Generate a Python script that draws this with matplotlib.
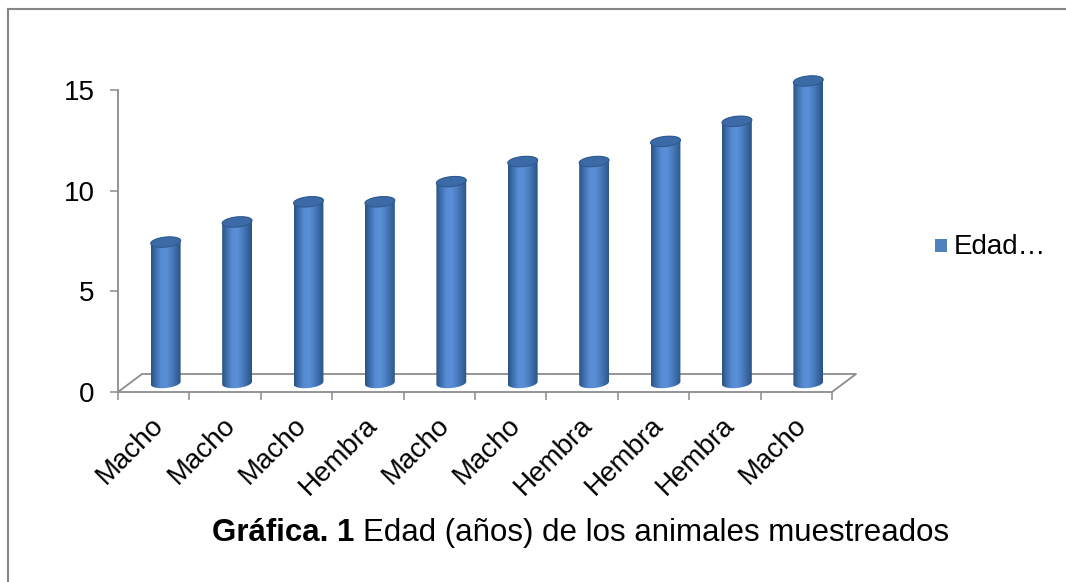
import numpy as np
import matplotlib
matplotlib.use("Agg")
import matplotlib.pyplot as plt
from matplotlib.colors import LinearSegmentedColormap
from matplotlib.patches import Polygon, Rectangle
from matplotlib.lines import Line2D

plt.rcParams['font.family'] = ['Liberation Sans', 'DejaVu Sans']

# data
categories = ['Macho', 'Macho', 'Macho', 'Hembra', 'Macho', 'Macho',
              'Hembra', 'Hembra', 'Hembra', 'Macho']
edad = [7, 8, 9, 9, 10, 11, 11, 12, 13, 15]
yticks = [0, 5, 10, 15]
series_name = 'Edad…'

W, H = 1066, 582
fig = plt.figure(figsize=(W / 100, H / 100), dpi=100)

# plot area in pixels (front plane); y axis drawn 0..15, some headroom above
x0, x1 = 118, 832
y15, ybot = 90, 392
ymax = 16.5
sy = (ybot - y15) / 15   # px per unit
ytop = ybot - ymax * sy
ax = fig.add_axes([x0 / W, (H - ybot) / H, (x1 - x0) / W, (ybot - ytop) / H])
n = len(edad)
ax.patch.set_visible(False)

sx = (x1 - x0) / n      # px per category

# 3d depth shift
dx = 24 / sx
dy = 18 / sy

gray = '#8c8c8c'
for s in ['top', 'right']:
    ax.spines[s].set_visible(False)
for s in ['left', 'bottom']:
    ax.spines[s].set_color(gray)
    ax.spines[s].set_linewidth(1.3)
ax.spines['left'].set_bounds(0, 15)

# floor outline
ax.plot([0, dx, n + dx, n], [0, dy, dy, 0], color=gray, lw=1.3,
        clip_on=False, zorder=1)

ax.set_yticks(yticks)
ax.tick_params(axis='y', direction='out', length=6, width=1.1, color=gray,
               pad=11, labelsize=20)
ax.set_xticks(np.arange(n + 1))
ax.set_xticklabels([])
ax.tick_params(axis='x', direction='out', length=6, width=1.1, color=gray)

for i, lab in enumerate(categories):
    ax.annotate(lab, (i + 0.5, 0), xytext=(6, -29), textcoords='offset pixels',
                rotation=45, ha='right', va='center', rotation_mode='anchor',
                fontsize=20, annotation_clip=False)

# cylinder look
cyl = LinearSegmentedColormap.from_list(
    'cyl', ['#2a5283', '#3f71b0', '#578cd3', '#5b90d8', '#4c80c3',
            '#3b69a5', '#2b5282'])
grad = np.linspace(0, 1, 200).reshape(1, -1)

rw = 15.0      # half width px
rh = 5.0       # half height px
tilt = np.deg2rad(6)


def ell(cx, cy, t):
    px = rw * np.cos(t) * np.cos(tilt) - rh * np.sin(t) * np.sin(tilt)
    py = rw * np.cos(t) * np.sin(tilt) + rh * np.sin(t) * np.cos(tilt)
    return cx + px / sx, cy + py / sy


for i, v in enumerate(edad):
    cx = i + 0.5 + dx / 2
    base = dy / 2
    top = v + dy / 2
    tb = np.linspace(np.pi, 2 * np.pi, 40)
    tt = np.linspace(0, np.pi, 40)
    bx, by = ell(cx, base, tb)
    tx, ty = ell(cx, top, tt)
    body = Polygon(np.column_stack([np.r_[bx, tx], np.r_[by, ty]]),
                   closed=True, fc='none', ec='none', transform=ax.transData)
    ax.add_patch(body)
    im = ax.imshow(grad, cmap=cyl, aspect='auto', zorder=3,
                   extent=[cx - rw / sx, cx + rw / sx, base - 2 * rh / sy, top + 2 * rh / sy])
    im.set_clip_path(body)
    ta = np.linspace(0, 2 * np.pi, 80)
    ex, ey = ell(cx, top, ta)
    ax.add_patch(Polygon(np.column_stack([ex, ey]), closed=True,
                         fc='#3c6aa6', ec='#2f5a90', lw=0.8, zorder=4,
                         clip_on=False))

ax.set_xlim(0, n)
ax.set_ylim(0, ymax)

# legend
fig.add_artist(Rectangle((935 / W, (H - 252) / H), 12 / W, 13 / H,
                         fc='#4f81bd', ec='none', transform=fig.transFigure))
fig.text(954 / W, (H - 254) / H, series_name, fontsize=20, va='baseline')

# caption: bold part + regular part
fig.canvas.draw()
r = fig.canvas.get_renderer()
t1 = fig.text(0, (H - 541) / H, 'Gráfica. 1 ', fontsize=22.5, fontweight='bold',
              va='baseline')
t2 = fig.text(0, (H - 541) / H, 'Edad (años) de los animales muestreados',
              fontsize=22.5, va='baseline')
w1 = t1.get_window_extent(r).width
w2 = t2.get_window_extent(r).width
start = 581 - (w1 + w2) / 2
t1.set_x(start / W)
t2.set_x((start + w1) / W)

# outer frame (only top and left visible)
fig.add_artist(Line2D([8 / W, 1], [(H - 9) / H, (H - 9) / H], color='#858585',
                      lw=1.5, transform=fig.transFigure))
fig.add_artist(Line2D([8 / W, 8 / W], [(H - 9) / H, 0], color='#858585',
                      lw=1.5, transform=fig.transFigure))

fig.savefig('out.png', dpi=100)
